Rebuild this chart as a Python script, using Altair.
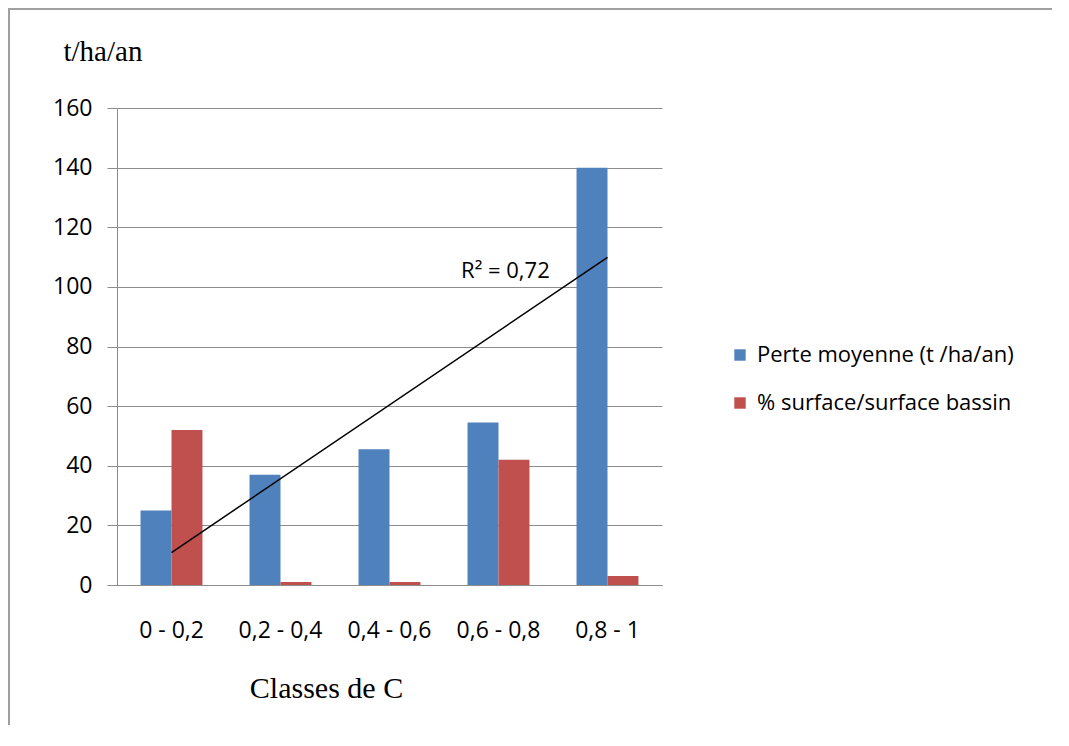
import altair as alt
import pandas as pd

categories = ["0 - 0,2", "0,2 - 0,4", "0,4 - 0,6", "0,6 - 0,8", "0,8 - 1"]
class_index = [1, 2, 3, 4, 5]
perte_moyenne = [25, 37, 45.5, 54.5, 140]
pct_surface = [52, 1, 1, 42, 3]
series_names = ["Perte moyenne (t /ha/an)", "% surface/surface bassin"]
series_colors = ["#4F81BD", "#C0504D"]
y_ticks = [0, 20, 40, 60, 80, 100, 120, 140, 160]
band_edges = [0.5, 1.5, 2.5, 3.5, 4.5, 5.5]
r2_text = ["R² = 0,72"]
r2_anchor_idx = [4.47]
r2_anchor_val = [103]

rows = []
for c, i, v in zip(categories, class_index, perte_moyenne):
    rows.append({"cat": c, "idx": i, "series": series_names[0], "value": v})
for c, i, v in zip(categories, class_index, pct_surface):
    rows.append({"cat": c, "idx": i, "series": series_names[1], "value": v})
df = pd.DataFrame(rows)

grey = "#8C8C8C"
sans = "Open Sans"
serif = "Liberation Serif"
fs = 23

y_scale = alt.Scale(domain=[0, 160], nice=False)

bars = alt.Chart(df).mark_bar().encode(
    x=alt.X("cat:N", sort=categories,
            scale=alt.Scale(paddingInner=0, paddingOuter=0),
            axis=alt.Axis(title="Classes de C", labelAngle=0, ticks=False,
                          labelFont=sans, labelFontSize=fs, labelColor="#000",
                          labelPadding=34, domainColor=grey, grid=False,
                          titleFont=serif, titleFontSize=30, titleFontWeight="normal",
                          titleColor="#000", titleX=209, titleY=112,
                          titleBaseline="alphabetic", titleAlign="center")),
    xOffset=alt.XOffset("series:N", sort=series_names,
                        scale=alt.Scale(paddingInner=0, paddingOuter=0.76)),
    y=alt.Y("value:Q", scale=y_scale,
            axis=alt.Axis(values=y_ticks, title="t/ha/an", titleAngle=0,
                          titleFont=serif, titleFontSize=29, titleFontWeight="normal",
                          titleColor="#000", titleAlign="left", titleBaseline="alphabetic",
                          titleX=-54, titleY=-48,
                          labelFont=sans, labelFontSize=fs, labelColor="#000",
                          labelPadding=15, tickSize=10, tickColor=grey,
                          domainColor=grey, gridColor=grey)),
    color=alt.Color("series:N",
                    scale=alt.Scale(domain=series_names, range=series_colors),
                    legend=alt.Legend(title=None, orient="none", legendX=612, legendY=236,
                                      symbolType="square", symbolSize=130,
                                      symbolStrokeWidth=0, labelFont=sans,
                                      labelFontSize=22, labelColor="#000", labelLimit=500,
                                      rowPadding=26, labelOffset=6, padding=0)),
)

line = alt.Chart(df).transform_filter(
    alt.datum.series == series_names[0]
).transform_regression("idx", "value", method="linear").mark_line(
    color="#000", strokeWidth=1.5
).encode(
    x=alt.X("idx:Q", scale=alt.Scale(domain=[0.5, 5.5], nice=False, zero=False),
            axis=alt.Axis(orient="bottom", values=band_edges, labels=False, ticks=True,
                          tickSize=10, tickColor=grey, domain=False, grid=False,
                          title=None)),
    y=alt.Y("value:Q", scale=y_scale),
)

r2_df = pd.DataFrame({"idx": r2_anchor_idx, "value": r2_anchor_val, "label": r2_text})
r2 = alt.Chart(r2_df).mark_text(
    align="right", baseline="alphabetic", font=sans, fontSize=22, color="#000"
).encode(
    x=alt.X("idx:Q", scale=alt.Scale(domain=[0.5, 5.5], nice=False, zero=False), axis=None),
    y=alt.Y("value:Q", scale=y_scale),
    text="label:N",
)

trend = alt.layer(line, r2)

frame = alt.Chart(alt.Data(values=[{"f": 1}])).mark_rect(
    fillOpacity=0, stroke="#A0A0A0", strokeWidth=2
).encode(
    x=alt.value(-108), x2=alt.value(2000), y=alt.value(-99), y2=alt.value(2000)
)

chart = alt.layer(bars, trend, frame).resolve_scale(x="independent").properties(
    width=545, height=477,
    autosize=alt.AutoSizeParams(type="none"),
    padding={"left": 109, "top": 100, "right": 390, "bottom": 140},
).configure_view(stroke=None)

chart.save("out.html", embed_options={"renderer": "svg", "actions": False})
